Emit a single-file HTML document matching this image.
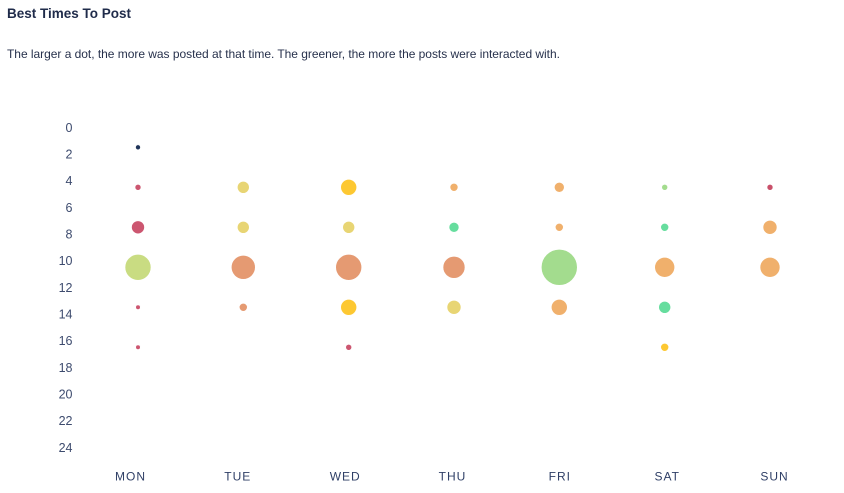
<!DOCTYPE html>
<html><head><meta charset="utf-8"><style>
html,body{margin:0;padding:0;background:#fff;}
body{width:844px;height:493px;overflow:hidden;position:relative;font-family:"Liberation Sans",Arial,sans-serif;}
.t{position:absolute;left:7px;top:6px;font-size:13.5px;font-weight:bold;color:#1f2b4a;}
.s{position:absolute;left:7px;top:47px;font-size:12px;color:#27314c;white-space:nowrap;letter-spacing:-0.03px;}
svg{position:absolute;left:0;top:0;}
</style></head><body>
<div class="t">Best Times To Post</div>
<div class="s">The larger a dot, the more was posted at that time. The greener, the more the posts were interacted with.</div>
<svg width="844" height="493" viewBox="0 0 844 493">
<g font-family="Liberation Sans, Arial, sans-serif" font-size="12.5" fill="#3d4b6e" text-anchor="end">
<text x="72.5" y="131.8">0</text>
<text x="72.5" y="158.5">2</text>
<text x="72.5" y="185.1">4</text>
<text x="72.5" y="211.8">6</text>
<text x="72.5" y="238.5">8</text>
<text x="72.5" y="265.1">10</text>
<text x="72.5" y="291.8">12</text>
<text x="72.5" y="318.5">14</text>
<text x="72.5" y="345.1">16</text>
<text x="72.5" y="371.8">18</text>
<text x="72.5" y="398.5">20</text>
<text x="72.5" y="425.1">22</text>
<text x="72.5" y="451.8">24</text>
</g>
<g font-family="Liberation Sans, Arial, sans-serif" font-size="12" fill="#2f3f66" text-anchor="middle" letter-spacing="1">
<text x="130.5" y="480.5">MON</text>
<text x="237.8" y="480.5">TUE</text>
<text x="345.2" y="480.5">WED</text>
<text x="452.5" y="480.5">THU</text>
<text x="559.8" y="480.5">FRI</text>
<text x="667.2" y="480.5">SAT</text>
<text x="774.5" y="480.5">SUN</text>
</g>
<g stroke="#fff" stroke-width="0.6">
<circle cx="138" cy="147.3" r="2.5" fill="#1f3358"/>
<circle cx="138" cy="187.3" r="3" fill="#cc5670"/>
<circle cx="138" cy="227.3" r="6.5" fill="#cc5670"/>
<circle cx="138" cy="267.3" r="13" fill="#c9dc82"/>
<circle cx="138" cy="307.3" r="2.3" fill="#cc5670"/>
<circle cx="138" cy="347.3" r="2.3" fill="#cc5670"/>
<circle cx="243.3" cy="187.3" r="6" fill="#e8d574"/>
<circle cx="243.3" cy="227.3" r="6" fill="#e8d574"/>
<circle cx="243.3" cy="267.3" r="12" fill="#e59a72"/>
<circle cx="243.3" cy="307.3" r="4" fill="#e59a72"/>
<circle cx="348.7" cy="187.3" r="8" fill="#fdc832"/>
<circle cx="348.7" cy="227.3" r="6" fill="#e8d574"/>
<circle cx="348.7" cy="267.3" r="13" fill="#e59a72"/>
<circle cx="348.7" cy="307.3" r="8" fill="#fdc832"/>
<circle cx="348.7" cy="347.3" r="3" fill="#cc5670"/>
<circle cx="454" cy="187.3" r="4" fill="#f0b06c"/>
<circle cx="454" cy="227.3" r="5" fill="#66dd9e"/>
<circle cx="454" cy="267.3" r="11" fill="#e59a72"/>
<circle cx="454" cy="307.3" r="7" fill="#e8d574"/>
<circle cx="559.3" cy="187.3" r="5" fill="#f0b06c"/>
<circle cx="559.3" cy="227.3" r="4" fill="#f0b06c"/>
<circle cx="559.3" cy="267.3" r="18" fill="#a3dc8e"/>
<circle cx="559.3" cy="307.3" r="8" fill="#f0b06c"/>
<circle cx="664.7" cy="187.3" r="3" fill="#a3dc8e"/>
<circle cx="664.7" cy="227.3" r="4" fill="#66dd9e"/>
<circle cx="664.7" cy="267.3" r="10" fill="#f0b06c"/>
<circle cx="664.7" cy="307.3" r="6" fill="#66dd9e"/>
<circle cx="664.7" cy="347.3" r="4" fill="#fdc832"/>
<circle cx="770" cy="187.3" r="3" fill="#c9506a"/>
<circle cx="770" cy="227.3" r="7" fill="#f0b06c"/>
<circle cx="770" cy="267.3" r="10" fill="#f0b06c"/>
</g>
</svg>
</body></html>
